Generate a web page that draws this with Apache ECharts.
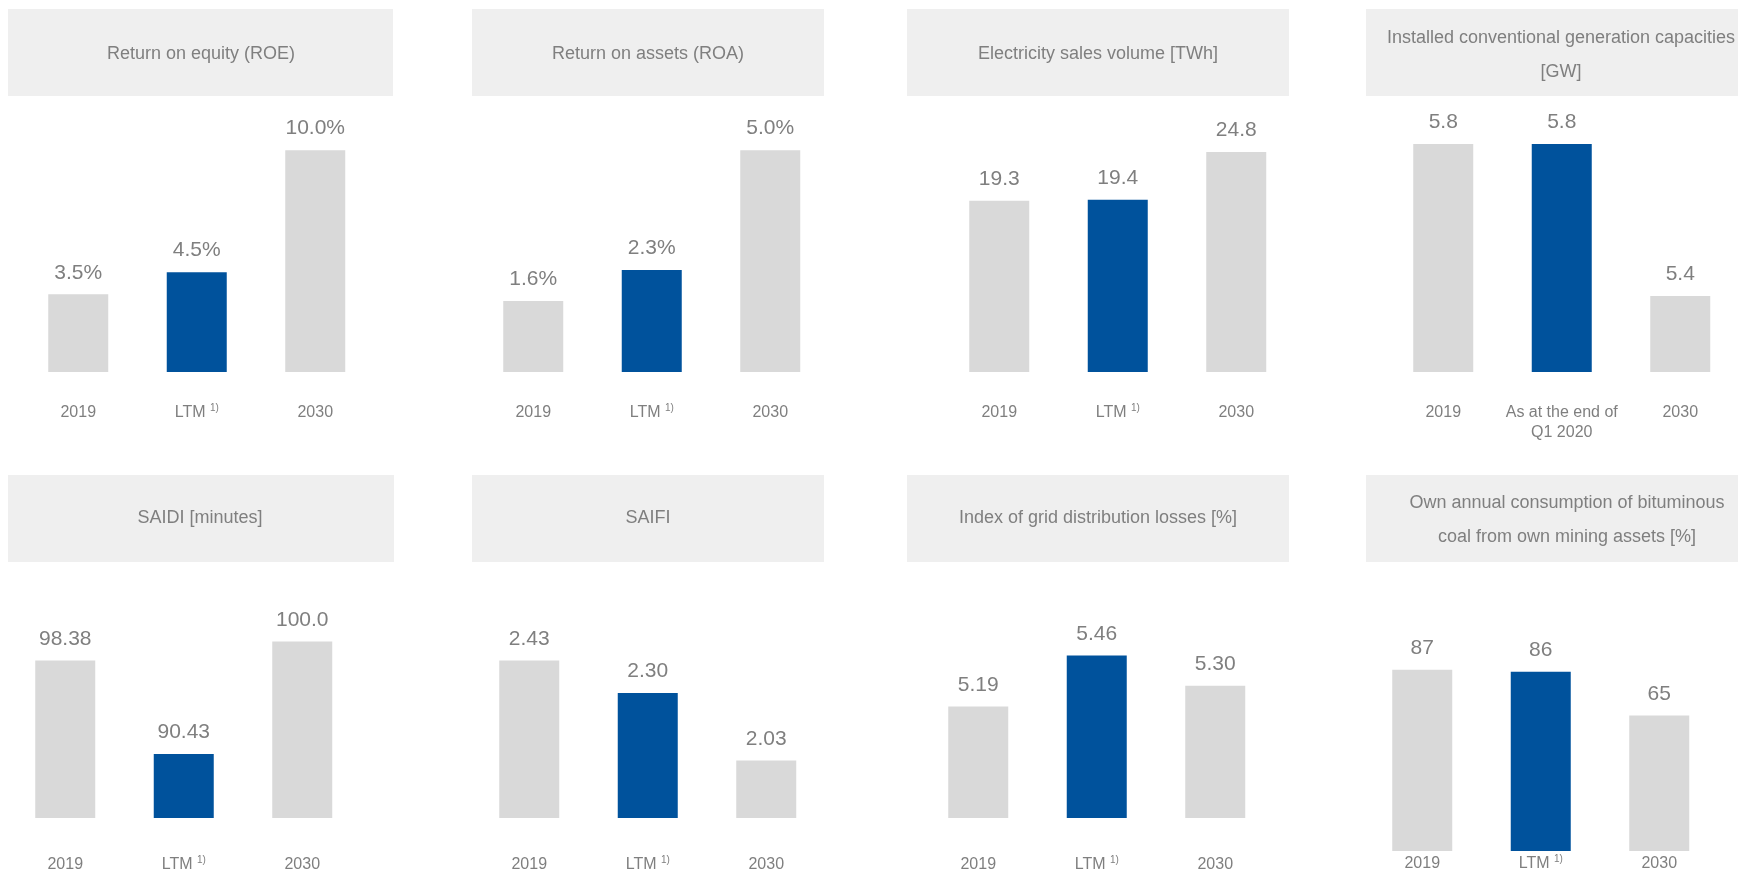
<!DOCTYPE html>
<html>
<head>
<meta charset="utf-8">
<script src="https://cdn.jsdelivr.net/npm/echarts@6/dist/echarts.min.js"></script>
<style>
  html, body { margin: 0; padding: 0; background: #ffffff; }
  #chart { width: 1738px; height: 870px; }
</style>
</head>
<body>
<div id="chart"></div>
<script>
// Categories
const categories = ['2019', 'LTM', '2030'];
const capacityCategories = ['2019', 'As at the end of\nQ1 2020', '2030'];

// Series values
const roe = [3.5, 4.5, 10.0];
const roa = [1.6, 2.3, 5.0];
const salesVolume = [19.3, 19.4, 24.8];
const capacity = [5.8, 5.8, 5.4];
const saidi = [98.38, 90.43, 100.0];
const saifi = [2.43, 2.30, 2.03];
const gridLosses = [5.19, 5.46, 5.30];
const ownCoal = [87, 86, 65];

// Decimal places shown on each value label
const saidiDecimals = [2, 2, 1];

// Panel titles
const titles = [
  'Return on equity (ROE)',
  'Return on assets (ROA)',
  'Electricity sales volume [TWh]',
  'Installed conventional generation capacities\n[GW]',
  'SAIDI [minutes]',
  'SAIFI',
  'Index of grid distribution losses [%]',
  'Own annual consumption of bituminous\ncoal from own mining assets [%]'
];

const FONT = '"Liberation Sans", Arial, Helvetica, sans-serif';
const TEXT = '#7f7f7f';
const GREY = '#d9d9d9';
const BLUE = '#00529c';
const HEADER = '#efefef';
const highlightIndex = 1;

const fmt = (d, suffix) => (v, i) => v.toFixed(Array.isArray(d) ? d[i] : d) + (suffix || '');

// Panel layout: grid box, y range and label spacing
const panels = [
  { data: roe, cats: categories, fmt: fmt(1, '%'), left: 19, top: 128, bottom: 498, min: 0, max: 11, margin: 31,
    header: [8, 9, 385, 87], titleAt: [201, 54] },
  { data: roa, cats: categories, fmt: fmt(1, '%'), left: 474, top: 128, bottom: 498, min: 0, max: 5.5, margin: 31,
    header: [472, 9, 352, 87], titleAt: [648, 54] },
  { data: salesVolume, cats: categories, fmt: fmt(1), left: 940, top: 128, bottom: 498, min: 0, max: 27.5, margin: 31,
    header: [907, 9, 382, 87], titleAt: [1098, 54] },
  { data: capacity, cats: capacityCategories, fmt: fmt(1), left: 1384, top: 128, bottom: 498, min: 5.2, max: 5.842, margin: 31,
    header: [1366, 9, 372, 87], titleAt: [1561, 55] },
  { data: saidi, cats: categories, fmt: fmt(saidiDecimals), left: 6, top: 618, bottom: 52, min: 85, max: 102, margin: 37,
    header: [8, 475, 386, 87], titleAt: [200, 518] },
  { data: saifi, cats: categories, fmt: fmt(2), left: 470, top: 618, bottom: 52, min: 1.8, max: 2.6, margin: 37,
    header: [472, 475, 352, 87], titleAt: [648, 518] },
  { data: gridLosses, cats: categories, fmt: fmt(2), left: 919, top: 618, bottom: 52, min: 4.6, max: 5.658, margin: 37,
    header: [907, 475, 382, 87], titleAt: [1098, 518] },
  { data: ownCoal, cats: categories, fmt: fmt(0), left: 1363, top: 651, bottom: 19, min: 0, max: 96, margin: 3,
    header: [1366, 475, 372, 87], titleAt: [1567, 520] }
];

const PANEL_W = 355.5;

const grid = [], xAxis = [], yAxis = [], series = [], graphic = [];

panels.forEach((p, k) => {
  grid.push({ left: p.left, top: p.top, width: PANEL_W, bottom: p.bottom, containLabel: false, outerBoundsMode: 'none' });
  xAxis.push({
    type: 'category', gridIndex: k, data: p.cats,
    axisLine: { show: false }, axisTick: { show: false }, splitLine: { show: false },
    axisLabel: {
      interval: 0, margin: p.margin, color: TEXT, fontSize: 16, fontFamily: FONT, lineHeight: 20,
      formatter: (v) => v === 'LTM' ? 'LTM {sup|1)}' : v,
      rich: { sup: { fontSize: 10, color: TEXT, fontFamily: FONT, verticalAlign: 'top', padding: [0, 0, 6, 0] } }
    }
  });
  yAxis.push({ type: 'value', gridIndex: k, min: p.min, max: p.max, show: false, splitLine: { show: false } });
  series.push({
    type: 'bar', xAxisIndex: k, yAxisIndex: k, barWidth: 60,
    data: p.data.map((v, i) => ({ value: v, itemStyle: { color: i === highlightIndex ? BLUE : GREY } })),
    label: {
      show: true, position: 'top', distance: 11, color: TEXT, fontSize: 21, fontFamily: FONT,
      formatter: (params) => p.fmt(params.value, params.dataIndex)
    }
  });
  const [hx, hy, hw, hh] = p.header;
  graphic.push({ type: 'rect', shape: { x: hx, y: hy, width: hw, height: hh }, style: { fill: HEADER }, z: 0 });
  graphic.push({
    type: 'text', x: p.titleAt[0], y: p.titleAt[1], z: 1,
    style: { text: titles[k], fill: TEXT, fontSize: 18, fontFamily: FONT, align: 'center', verticalAlign: 'middle', lineHeight: 34 }
  });
});

const chart = echarts.init(document.getElementById('chart'), null, { renderer: 'canvas' });
chart.setOption({
  animation: false,
  backgroundColor: '#ffffff',
  grid, xAxis, yAxis, series, graphic
});
</script>
</body>
</html>
